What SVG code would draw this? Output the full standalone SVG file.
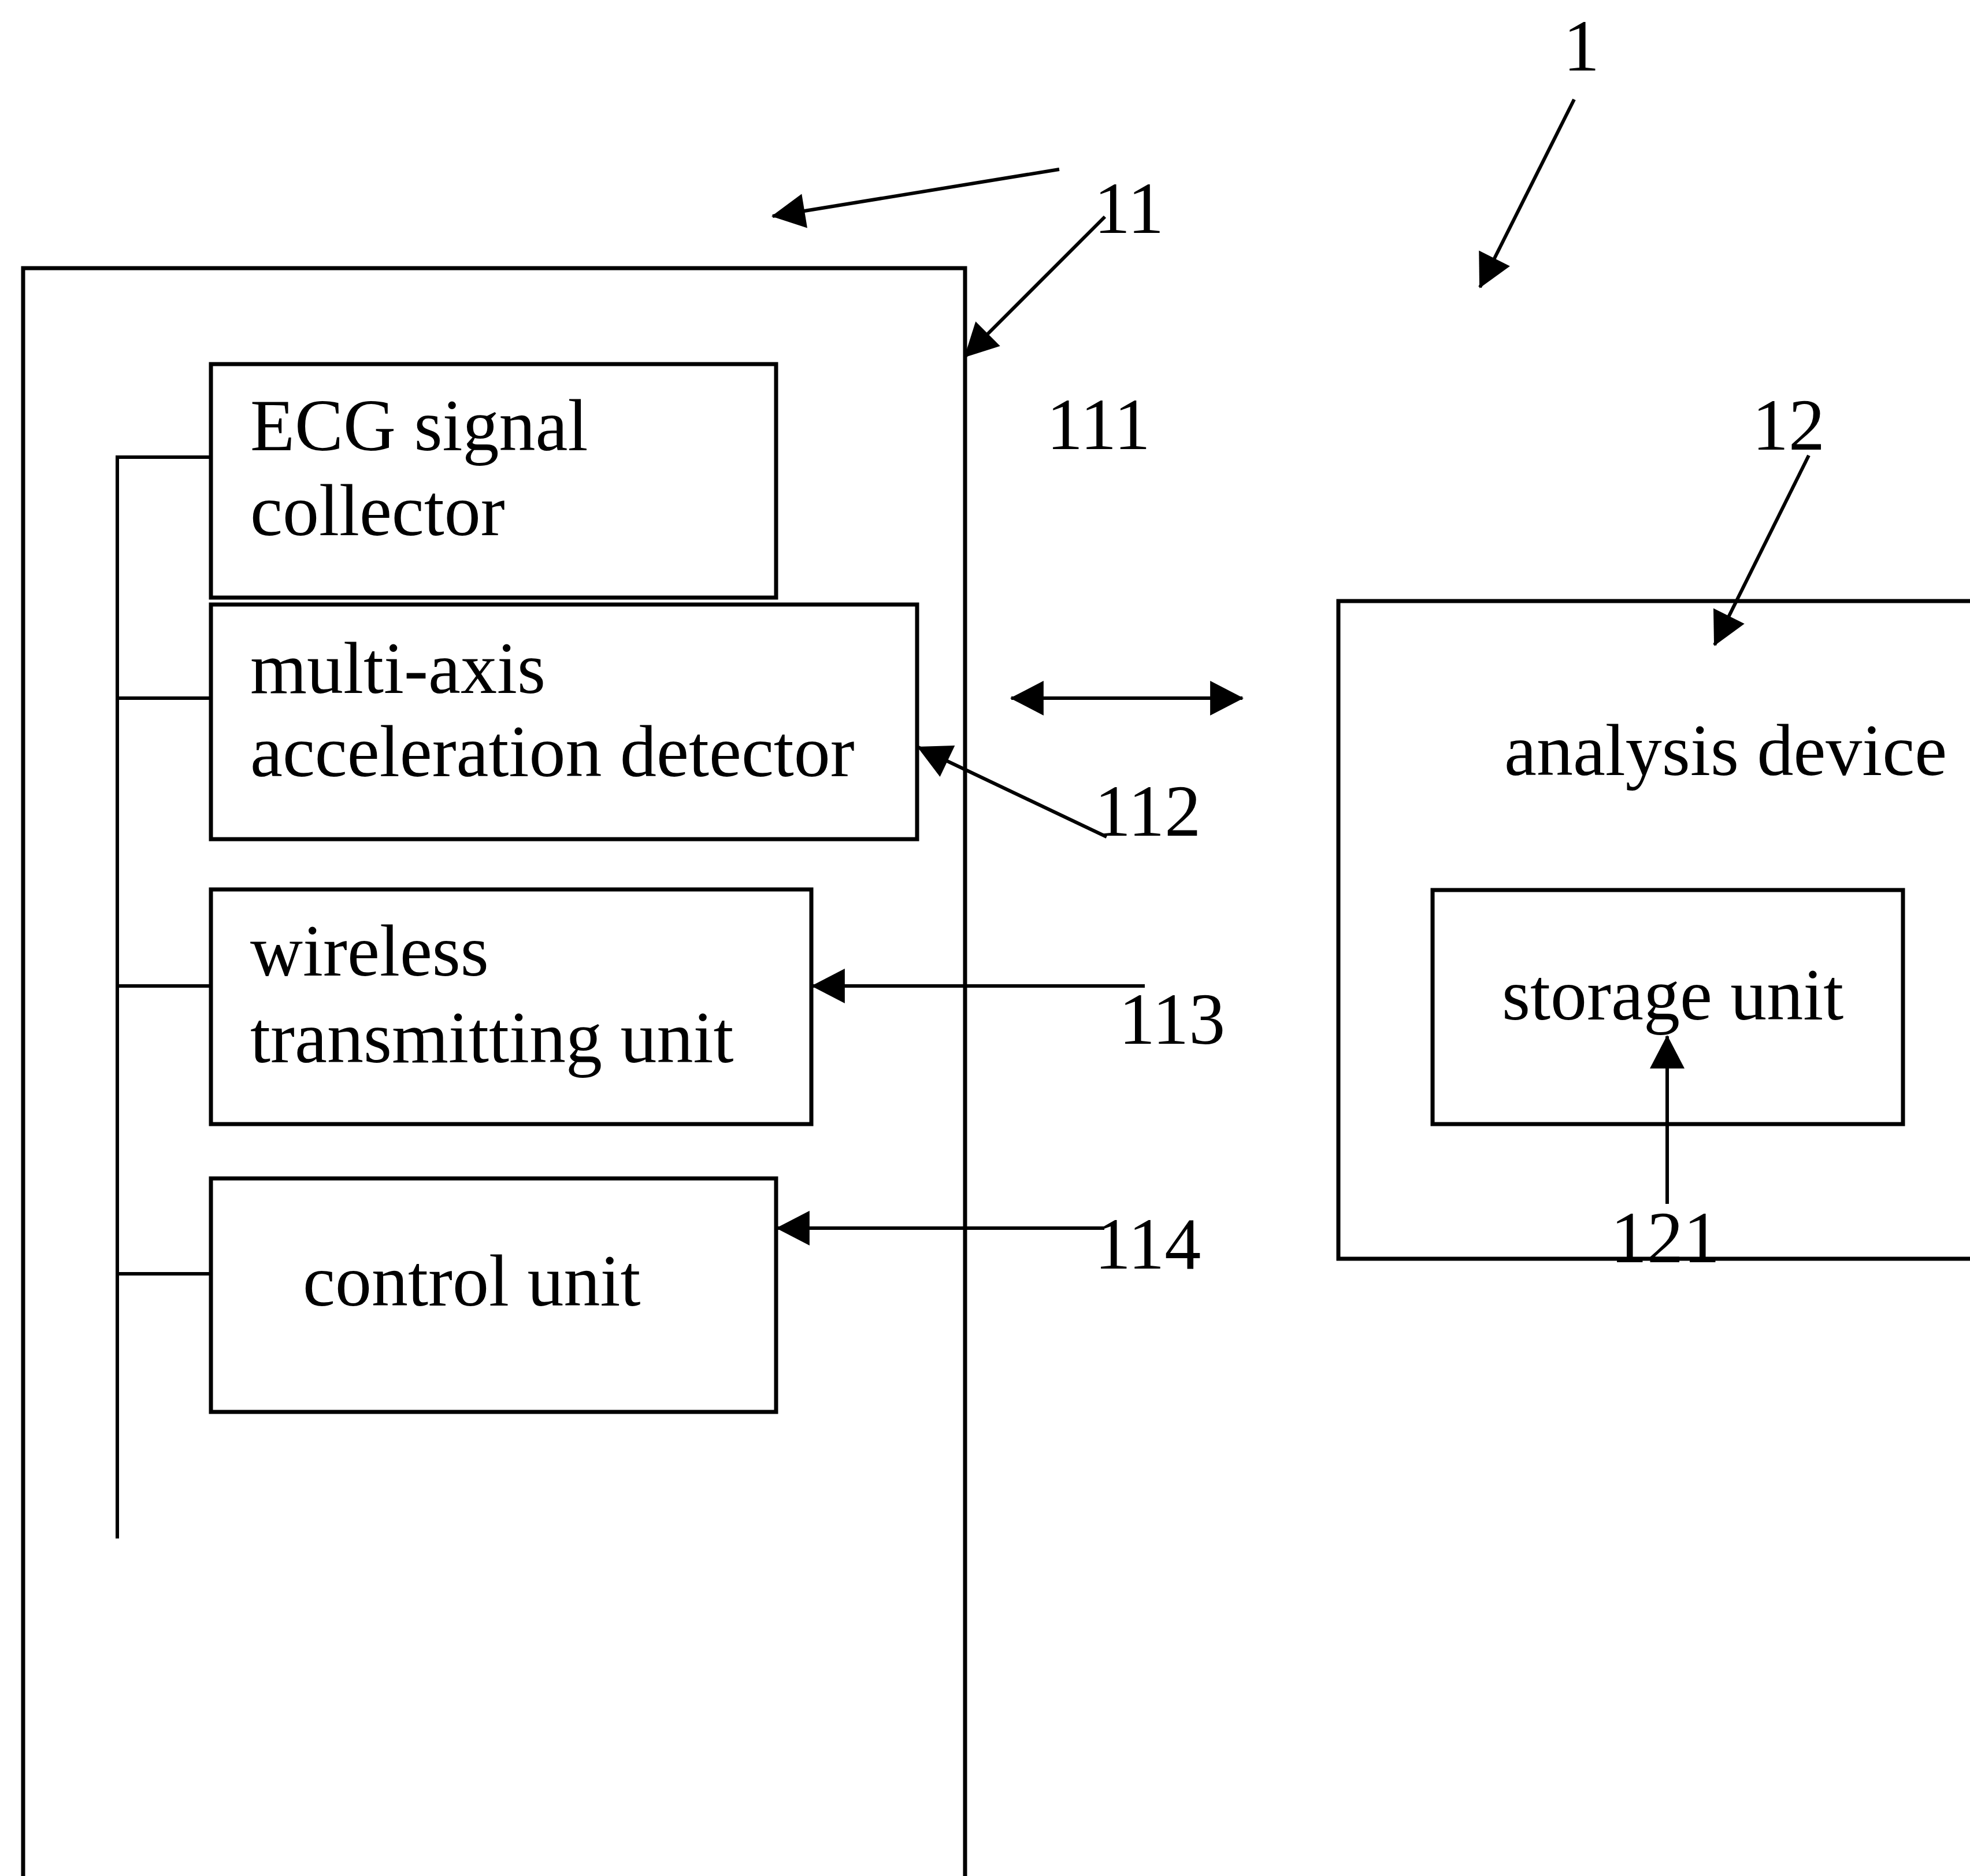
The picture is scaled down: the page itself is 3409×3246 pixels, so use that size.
<svg xmlns="http://www.w3.org/2000/svg" width="3409" height="3246" viewBox="0 0 3409 3246">
<style>
.box{fill:none;stroke:#000;stroke-width:7}
.ln{fill:none;stroke:#000;stroke-width:6}
.arr{fill:none;stroke:#000;stroke-width:6;marker-end:url(#ah)}
.t{font-family:"Liberation Serif","Times New Roman",serif;font-size:126px;fill:#000}
</style>
<defs>
<marker id="ah" markerUnits="userSpaceOnUse" markerWidth="60" markerHeight="60" viewBox="0 0 56 58" refX="54" refY="29" orient="auto">
<path d="M0,0 L56,29 L0,58 z" fill="#000"/>
</marker>
<marker id="ahs" markerUnits="userSpaceOnUse" markerWidth="60" markerHeight="60" viewBox="0 0 56 58" refX="2" refY="29" orient="auto">
<path d="M56,0 L0,29 L56,58 z" fill="#000"/>
</marker>
</defs>
<rect width="3409" height="3246" fill="#fff"/>
<g id="node-11">
<rect class="box" x="40" y="464" width="1630" height="2900"/>
</g>
<g id="bus">
<line class="ln" x1="203" y1="788" x2="203" y2="2662"/>
</g>
<g id="node-ecg">
<rect class="box" x="365" y="630" width="978" height="404"/>
<text class="t" x="433" y="779">ECG signal</text>
<text class="t" x="433" y="926">collector</text>
</g>
<g id="node-accel">
<rect class="box" x="365" y="1046" width="1222" height="406"/>
<text class="t" x="433" y="1199">multi-axis</text>
<text class="t" x="433" y="1343">acceleration detector</text>
</g>
<g id="node-wireless">
<rect class="box" x="365" y="1539" width="1039" height="406"/>
<text class="t" x="433" y="1688">wireless</text>
<text class="t" x="433" y="1838">transmitting unit</text>
</g>
<g id="node-control">
<rect class="box" x="365" y="2039" width="978" height="404"/>
<text class="t" x="524" y="2259">control unit</text>
</g>
<g id="node-12">
<rect class="box" x="2316" y="1040" width="1200" height="1138"/>
<text class="t" x="2603" y="1341">analysis device</text>
</g>
<g id="node-storage">
<rect class="box" x="2479" y="1540" width="814" height="405"/>
<text class="t" x="2599" y="1764">storage unit</text>
</g>
<g id="labels">
<text class="t" x="2705" y="122">1</text>
<text class="t" x="1893" y="403">11</text>
<text class="t" x="1811" y="777">111</text>
<text class="t" x="3032" y="778">12</text>
<text class="t" x="1894" y="1446">112</text>
<text class="t" x="1936" y="1806">113</text>
<text class="t" x="1894" y="2195">114</text>
<text class="t" x="2787" y="2184">121</text>
</g>
<g id="connectors">
<line class="ln" x1="203" y1="791" x2="365" y2="791"/>
<line class="ln" x1="203" y1="1208" x2="365" y2="1208"/>
<line class="ln" x1="203" y1="1706" x2="365" y2="1706"/>
<line class="ln" x1="203" y1="2204" x2="365" y2="2204"/>
<line class="arr" x1="1833" y1="293" x2="1337" y2="374"/>
<line class="arr" x1="1912" y1="375" x2="1670" y2="617"/>
<line class="arr" x1="2724" y1="172" x2="2561" y2="497"/>
<line class="arr" x1="3130" y1="788" x2="2967" y2="1116"/>
<line class="ln" x1="1750" y1="1208" x2="2150" y2="1208" marker-start="url(#ahs)" marker-end="url(#ah)"/>
<line class="arr" x1="1915" y1="1448" x2="1589" y2="1293"/>
<line class="arr" x1="1981" y1="1706" x2="1406" y2="1706"/>
<line class="arr" x1="1911" y1="2125" x2="1345" y2="2125"/>
<line class="arr" x1="2885" y1="2083" x2="2885" y2="1793"/>
</g>
</svg>
